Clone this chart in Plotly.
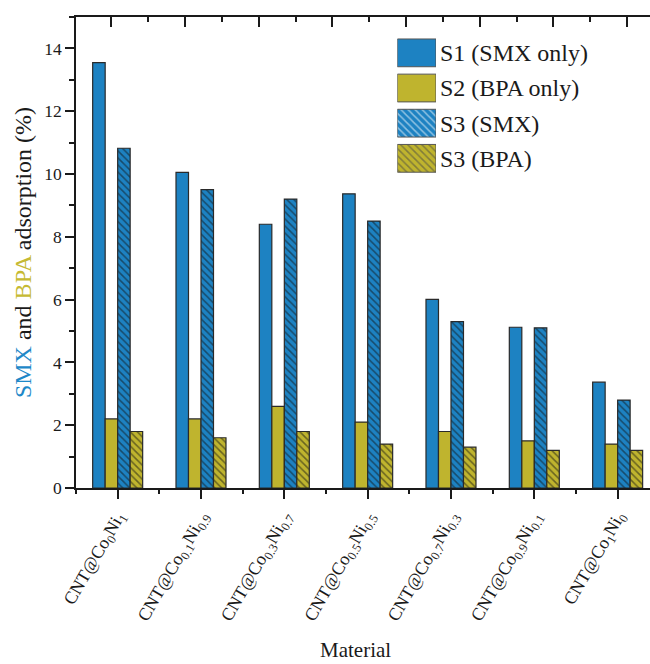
import plotly.graph_objects as go

# ---- data ----
materials = [
    "CNT@Co<sub>0</sub>Ni<sub>1</sub>",
    "CNT@Co<sub>0.1</sub>Ni<sub>0.9</sub>",
    "CNT@Co<sub>0.3</sub>Ni<sub>0.7</sub>",
    "CNT@Co<sub>0.5</sub>Ni<sub>0.5</sub>",
    "CNT@Co<sub>0.7</sub>Ni<sub>0.3</sub>",
    "CNT@Co<sub>0.9</sub>Ni<sub>0.1</sub>",
    "CNT@Co<sub>1</sub>Ni<sub>0</sub>",
]
s1_smx_only = [13.55, 10.05, 8.40, 9.37, 6.01, 5.12, 3.37]
s2_bpa_only = [2.20, 2.20, 2.60, 2.10, 1.80, 1.50, 1.40]
s3_smx = [10.82, 9.50, 9.20, 8.50, 5.30, 5.10, 2.80]
s3_bpa = [1.80, 1.60, 1.80, 1.40, 1.30, 1.20, 1.20]
series_names = ["S1 (SMX only)", "S2 (BPA only)", "S3 (SMX)", "S3 (BPA)"]
y_ticks = [0, 2, 4, 6, 8, 10, 12, 14]
y_minor = list(range(0, 16))

# ---- style ----
BLUE = "#1D82C2"
YELLOW = "#BFB42E"
EDGE = "#2a2a2a"
TXT = "#1a1a1a"
FONT = "Liberation Serif, Times New Roman, Times, serif"
series_colors = [BLUE, YELLOW, BLUE, YELLOW]
series_hatch = ["", "", "\\", "\\"]
series_values = [s1_smx_only, s2_bpa_only, s3_smx, s3_bpa]

x_pos = list(range(len(materials)))

fig = go.Figure()
for name, vals, col, hatch in zip(series_names, series_values, series_colors, series_hatch):
    pattern = dict(shape=hatch, fillmode="overlay", fgcolor="#111111", size=5, solidity=0.3) if hatch else dict(shape="")
    fig.add_trace(go.Bar(
        x=x_pos, y=vals, name=name,
        marker=dict(color=col, line=dict(color=EDGE, width=1.2), pattern=pattern),
        showlegend=False,
    ))

# custom legend drawn as bars on a small axis (labels are the axis tick labels)
fig.add_trace(go.Bar(
    x=[1] * len(series_names), y=series_names, orientation="h",
    xaxis="x3", yaxis="y3", width=0.79,
    marker=dict(color=series_colors, line=dict(color="#555555", width=1),
                pattern=dict(shape=series_hatch, fillmode="overlay", fgcolor="#111111", size=5, solidity=0.3)),
    showlegend=False, hoverinfo="skip",
))

# invisible trace so the top axis is drawn
fig.add_trace(go.Scatter(x=[0.2, 7.5], y=[14.9, 14.9], xaxis="x2", yaxis="y", mode="markers",
                         marker=dict(size=1, color="rgba(0,0,0,0)"), showlegend=False, hoverinfo="skip"))

L, R = 76, 650
T, B = 17, 488.3
W, H = R - L, B - T

def px_x(p):
    return (p - L) / W

def px_y(p):
    return (B - p) / H

tick_common = dict(tickwidth=1.6, tickcolor=TXT)

fig.update_layout(
    width=650, height=664,
    margin=dict(l=L, r=0, t=T, b=664 - 488),
    paper_bgcolor="white", plot_bgcolor="rgba(0,0,0,0)",
    barmode="group", bargap=0.4, bargroupgap=0,
    font=dict(family=FONT, color=TXT),
    showlegend=False,
    xaxis=dict(
        range=[-0.5, -0.5 + W / 83.33],
        tickmode="array", tickvals=x_pos, ticktext=materials,
        tickangle=-60, tickfont=dict(size=18, family=FONT, color=TXT),
        ticks="outside", ticklen=9, **tick_common,
        minor=dict(tickmode="array", tickvals=[p + 0.5 for p in [-1] + x_pos],
                   ticks="outside", ticklen=4, **tick_common),
        showline=True, linecolor=TXT, linewidth=1.6,
        showgrid=False, zeroline=False,
    ),
    xaxis2=dict(
        overlaying="x", side="top", range=[0, W / 73.67],
        tickmode="linear", tick0=0.48, dtick=1,
        ticks="inside", ticklen=10, **tick_common,
        minor=dict(tickmode="linear", tick0=-0.02, dtick=1, ticks="inside", ticklen=5, **tick_common),
        showticklabels=False,
        showline=True, linecolor=TXT, linewidth=1.6,
        showgrid=False, zeroline=False,
    ),
    yaxis=dict(
        range=[0, 15], tickmode="array", tickvals=y_ticks,
        tickfont=dict(size=17.5, family=FONT, color=TXT),
        ticks="outside", ticklen=9, **tick_common,
        minor=dict(tickmode="array", tickvals=y_minor, ticks="outside", ticklen=5, **tick_common),
        showline=True, linecolor=TXT, linewidth=1.6,
        showgrid=False, zeroline=False,
        title=dict(
            text='<span style="color:#1E88C8">SMX</span> and <span style="color:#C6BA33">BPA</span> adsorption (%)',
            font=dict(size=24, family=FONT, color=TXT), standoff=6,
        ),
    ),
    xaxis3=dict(domain=[px_x(397.3), px_x(436)], range=[0, 1], visible=False, anchor="y3"),
    yaxis3=dict(
        domain=[px_y(176), px_y(35.3)], anchor="x3", side="right",
        type="category", categoryorder="array", categoryarray=series_names, autorange="reversed",
        showline=False, showgrid=False, zeroline=False, ticks="",
        tickfont=dict(size=24, family=FONT, color=TXT), ticklabelstandoff=3,
    ),
    annotations=[dict(
        text="Material", xref="paper", yref="paper",
        x=px_x(355), y=px_y(650), xanchor="center", yanchor="middle",
        showarrow=False, font=dict(size=21, family=FONT, color=TXT),
    )],
)

fig.write_html("out.html")
